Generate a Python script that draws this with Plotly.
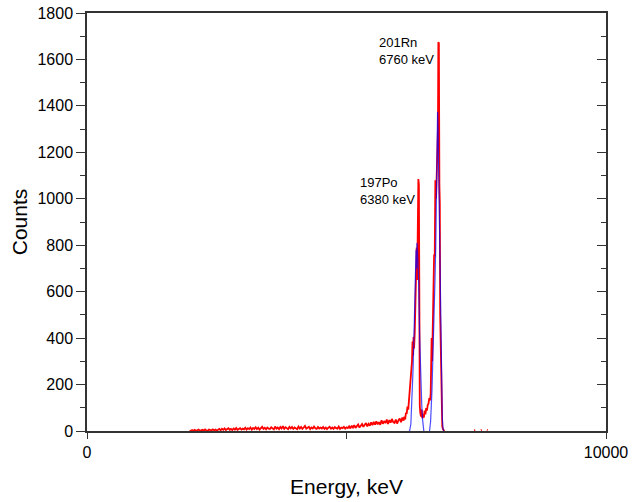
import plotly.graph_objects as go

# ---------------- data ----------------
# background region of the red spectrum: bins every 25 keV from 1975 to 6100 keV
bg_energy = list(range(1975, 6101, 25))
bg_counts = [
    2, 0, 4, 1, 5, 1, 3, 6, 1, 3, 5, 2, 7, 2, 1, 6, 4, 2, 7, 3, 6, 2,
    5, 9, 3, 10, 5, 11, 4, 8, 12, 5, 9, 4, 11, 6, 13, 5, 9, 12, 6, 10,
    7, 14, 6, 12, 8, 15, 6, 13, 9, 16, 8, 14, 6, 12, 18, 9, 14, 7, 15, 10,
    9, 16, 12, 7, 19, 10, 15, 8, 17, 11, 21, 9, 16, 13, 8, 18, 11, 17, 9, 15,
    13, 8, 19, 11, 17, 9, 15, 22, 10, 13, 18, 8, 15, 11, 19, 12, 9, 17, 11, 15,
    11, 17, 9, 15, 8, 14, 18, 10, 15, 9, 17, 12, 10, 19, 9, 15, 12, 18, 10, 16,
    13, 20, 11, 23, 15, 25, 13, 21, 28, 15, 23, 30,
    18, 27, 34, 20, 31, 23, 37, 25, 39, 27, 42, 29,
    38, 27, 46, 31, 43, 34, 49, 30, 47, 36, 52, 38,
    35, 49, 32, 46, 54, 38, 58, 45,
]

# peak region of the red spectrum
pk_energy = [6115, 6130, 6145, 6160, 6175, 6190, 6205, 6220, 6235, 6250,
             6262, 6272, 6282, 6292, 6302, 6315, 6328, 6340, 6352, 6362,
             6372, 6385, 6395, 6403, 6412, 6422, 6435, 6448, 6460, 6475,
             6490, 6505, 6520, 6535, 6550, 6565, 6580, 6595, 6610, 6622,
             6632, 6640, 6650, 6662, 6675, 6688, 6700, 6712, 6725, 6738,
             6750, 6762, 6770, 6780, 6790, 6798, 6805, 6812, 6820, 6828,
             6836, 6845, 6858, 6870, 6885]
pk_counts = [62, 50, 78, 74, 105, 92, 135, 148, 195, 228,
             300, 385, 325, 405, 355, 425, 600, 700, 790, 650,
             1080, 1085, 1060, 300, 110, 78, 62, 92, 55, 72,
             58, 88, 72, 98, 88, 112, 118, 142, 132, 160,
             330, 400, 300, 420, 600, 760, 750, 1080, 1000, 1100,
             1250, 1300, 1675, 1670, 1060, 980, 500, 380, 210, 150,
             60, 20, 8, 3, 0]

# sparse counts beyond the peaks (None = no data between)
tail_energy = [7460, 7480, None, 7590, 7605, None, 7705, 7720]
tail_counts = [3, 4, None, 3, 5, None, 5, 4]

# blue spectrum (two peaks)
blue_energy = [6200, 6216, 6240, 6255, 6270, 6284, 6303, 6322, 6340, 6350,
               6357, 6370, 6390, 6410, 6430, 6450, 6467, 6490,
               None,
               6600, 6620, 6647, 6665, 6686, 6705, 6720, 6735, 6745, 6755,
               6765, 6780, 6795, 6810, 6825, 6845, 6860, 6875]
blue_counts = [0, 0, 30, 100, 180, 275, 435, 650, 780, 700,
               810, 760, 650, 400, 220, 110, 47, 0,
               None,
               0, 40, 176, 300, 435, 650, 800, 1000, 1300, 1375,
               1300, 1050, 700, 420, 200, 60, 10, 0]

red_energy = bg_energy + pk_energy + [None] + tail_energy
red_counts = bg_counts + pk_counts + [None] + tail_counts

x_tickvals = [0, 5000, 10000]
x_ticktext = ["0", "", "10000"]

FONT = "Liberation Sans, Arial, sans-serif"

fig = go.Figure()
fig.add_trace(go.Scatter(x=red_energy, y=red_counts, mode="lines",
                         line=dict(color="#ff0000", width=1.8),
                         connectgaps=False, showlegend=False, hoverinfo="skip"))
fig.add_trace(go.Scatter(x=blue_energy, y=blue_counts, mode="lines",
                         line=dict(color="rgba(0,0,255,0.7)", width=1.2),
                         connectgaps=False, showlegend=False, hoverinfo="skip",
                         yaxis="y2"))

fig.add_annotation(x=5212, y=1110, xref="x", yref="y", text="197Po<br>6380 keV",
                   showarrow=False, xanchor="left", yanchor="top", align="left",
                   font=dict(family=FONT, size=13, color="#000"))
fig.add_annotation(x=5579, y=1712, xref="x", yref="y", text="201Rn<br>6760 keV",
                   showarrow=False, xanchor="left", yanchor="top", align="left",
                   font=dict(family=FONT, size=13, color="#000"))

axis_color = "#333333"
fig.update_layout(
    width=633, height=502,
    margin=dict(l=87, r=27, t=13, b=71),
    paper_bgcolor="white", plot_bgcolor="white",
    font=dict(family=FONT, color="#000"),
    xaxis=dict(range=[0, 10000], tickvals=x_tickvals, ticktext=x_ticktext,
               ticks="outside", ticklen=6, tickwidth=1.3, tickcolor=axis_color,
               showline=True, linecolor=axis_color, linewidth=1.5, mirror=True,
               showgrid=False, zeroline=False, automargin=False,
               tickfont=dict(family=FONT, size=16, color="#000"),
               title=dict(text="Energy, keV", font=dict(family=FONT, size=21, color="#000"),
                          standoff=19)),
    yaxis=dict(range=[0, 1800], dtick=200, tick0=0,
               ticks="outside", ticklen=9, tickwidth=1.3, tickcolor=axis_color,
               minor=dict(ticks="outside", ticklen=5, dtick=100, tickcolor=axis_color, tickwidth=1.3),
               showline=True, linecolor=axis_color, linewidth=1.5,
               showgrid=False, zeroline=False, automargin=False,
               tickfont=dict(family=FONT, size=16, color="#000"),
               title=dict(text="Counts", font=dict(family=FONT, size=21, color="#000"),
                          standoff=4)),
    yaxis2=dict(range=[0, 1800], dtick=200, tick0=0, overlaying="y", side="right",
                ticks="inside", ticklen=9, tickwidth=1.3, tickcolor=axis_color,
                minor=dict(ticks="inside", ticklen=5, dtick=100, tickcolor=axis_color, tickwidth=1.3),
                showline=True, linecolor=axis_color, linewidth=1.5, automargin=False,
                showticklabels=False, showgrid=False, zeroline=False),
)

fig.write_html("out.html")
